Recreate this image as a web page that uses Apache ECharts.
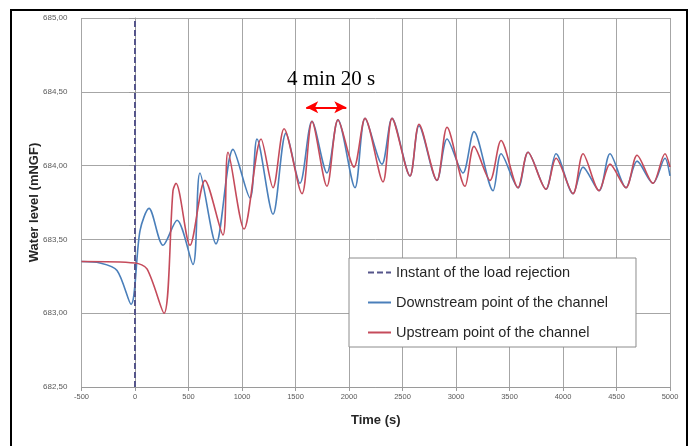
<!DOCTYPE html>
<html>
<head>
<meta charset="utf-8">
<script src="https://cdn.jsdelivr.net/npm/echarts@6/dist/echarts.min.js"></script>
<style>html,body{margin:0;padding:0;background:#fff}#c{width:694px;height:446px}</style>
</head>
<body>
<div id="c"></div>
<script>
// Time (s) / water level (mNGF)
const downstreamT = [-500,-327,-168,-37,47,131,262,393,542,607,757,916,1075,1140,1290,1411,1542,1654,1794,1897,2056,2150,2308,2402,2570,2654,2822,2916,3065,3168,3346,3421,3580,3673,3841,3935,4094,4187,4337,4439,4589,4692,4841,4953,5000];
const downstreamY = [683.35,683.34,683.29,683.06,683.56,683.71,683.46,683.63,683.33,683.95,683.47,684.11,683.78,684.18,683.67,684.22,683.88,684.30,683.95,684.31,683.85,684.32,684.01,684.32,683.93,684.27,683.90,684.18,683.95,684.23,683.83,684.08,683.85,684.09,683.84,684.08,683.81,683.99,683.83,684.08,683.85,684.03,683.88,684.05,683.93];
const upstreamT = [-500,0,112,271,355,383,514,654,822,869,1019,1178,1290,1393,1561,1654,1794,1897,2047,2150,2318,2402,2570,2654,2822,2916,3084,3168,3318,3421,3580,3673,3841,3935,4094,4187,4337,4439,4589,4692,4841,4953,5000];
const upstreamY = [683.35,683.34,683.30,683.00,683.83,683.88,683.46,683.90,683.53,684.09,683.57,684.18,683.85,684.25,683.81,684.30,683.86,684.31,683.99,684.32,683.89,684.32,683.93,684.28,683.90,684.26,683.86,684.13,683.90,684.17,683.85,684.09,683.84,684.05,683.81,684.08,683.83,684.01,683.85,684.07,683.88,684.08,683.99];
const rejectionT = [0, 0];
const rejectionY = [682.5, 685];
const periodStart = [1600, 684.395];
const periodEnd = [1975, 684.395];
const periodLabel = '4 min 20 s';
const seriesNames = ['Instant of the load rejection','Downstream point of the channel','Upstream point of the channel'];

const zip = (a, b) => a.map((v, i) => [v, b[i]]);

const chart = echarts.init(document.getElementById('c'));
chart.setOption({
  animation: false,
  backgroundColor: '#fff',
  textStyle: { fontFamily: 'Liberation Sans' },
  title: {
    text: periodLabel, left: 287, top: 69, padding: 0,
    textStyle: { fontFamily: 'Liberation Serif', fontSize: 21, fontWeight: 'normal', color: '#000' }
  },
  graphic: [{
    type: 'rect', shape: { x: 11, y: 10, width: 676, height: 445 },
    style: { fill: 'none', stroke: '#000', lineWidth: 2 }, silent: true, z: 100
  }],
  grid: { left: 81.5, right: 24, top: 18, bottom: 59 },
  legend: {
    data: seriesNames,
    orient: 'vertical', left: 349, top: 258,
    padding: [7, 28, 7, 18], itemGap: 15, itemWidth: 23, itemHeight: 14,
    backgroundColor: '#fff', borderColor: '#8c8c8c', borderWidth: 1,
    itemStyle: { color: 'rgba(0,0,0,0)', borderWidth: 0, opacity: 0 },
    textStyle: { fontSize: 14.5, color: '#262626', fontFamily: 'Liberation Sans' }
  },
  xAxis: {
    type: 'value', min: -500, max: 5000, interval: 500,
    name: 'Time (s)', nameLocation: 'middle', nameGap: 27, nameMoveOverlap: false,
    nameTextStyle: { fontSize: 13, fontWeight: 'bold', color: '#262626' },
    axisLine: { lineStyle: { color: '#9a9a9a' } },
    axisTick: { show: true, length: 4, lineStyle: { color: '#9a9a9a' } },
    axisLabel: { fontSize: 7.5, color: '#595959', margin: 6, formatter: v => String(v) },
    splitLine: { show: true, lineStyle: { color: '#a6a6a6', width: 1 } }
  },
  yAxis: {
    type: 'value', min: 682.5, max: 685, interval: 0.5,
    name: 'Water level (mNGF)', nameLocation: 'middle', nameGap: 41, nameMoveOverlap: false,
    nameTextStyle: { fontSize: 13, fontWeight: 'bold', color: '#262626' },
    axisLine: { show: true, lineStyle: { color: '#9a9a9a' } },
    axisTick: { show: true, length: 6, lineStyle: { color: '#9a9a9a' } },
    axisLabel: { fontSize: 8, color: '#595959', margin: 14, formatter: v => v.toFixed(2).replace('.', ',') },
    splitLine: { show: true, lineStyle: { color: '#a6a6a6', width: 1 } }
  },
  series: [
    {
      name: seriesNames[0], type: 'line', data: zip(rejectionT, rejectionY),
      symbol: 'none', z: 5,
      lineStyle: { color: '#55558a', width: 2, type: [6, 3] },
      itemStyle: { color: '#55558a' }
    },
    {
      name: seriesNames[1], type: 'line', data: zip(downstreamT, downstreamY),
      symbol: 'none', smooth: 0.3, z: 3,
      lineStyle: { color: '#4a7fba', width: 1.6 },
      itemStyle: { color: '#4a7fba' }
    },
    {
      name: seriesNames[2], type: 'line', data: zip(upstreamT, upstreamY),
      symbol: 'none', smooth: 0.3, z: 4,
      lineStyle: { color: '#c54b5b', width: 1.6 },
      itemStyle: { color: '#c54b5b' },
      markLine: {
        silent: true, symbol: ['arrow', 'arrow'], symbolSize: [9, 12],
        label: { show: false },
        lineStyle: { color: '#ff0000', width: 2, type: 'solid' },
        data: [[{ coord: periodStart }, { coord: periodEnd }]]
      }
    }
  ]
});
</script>
</body>
</html>
